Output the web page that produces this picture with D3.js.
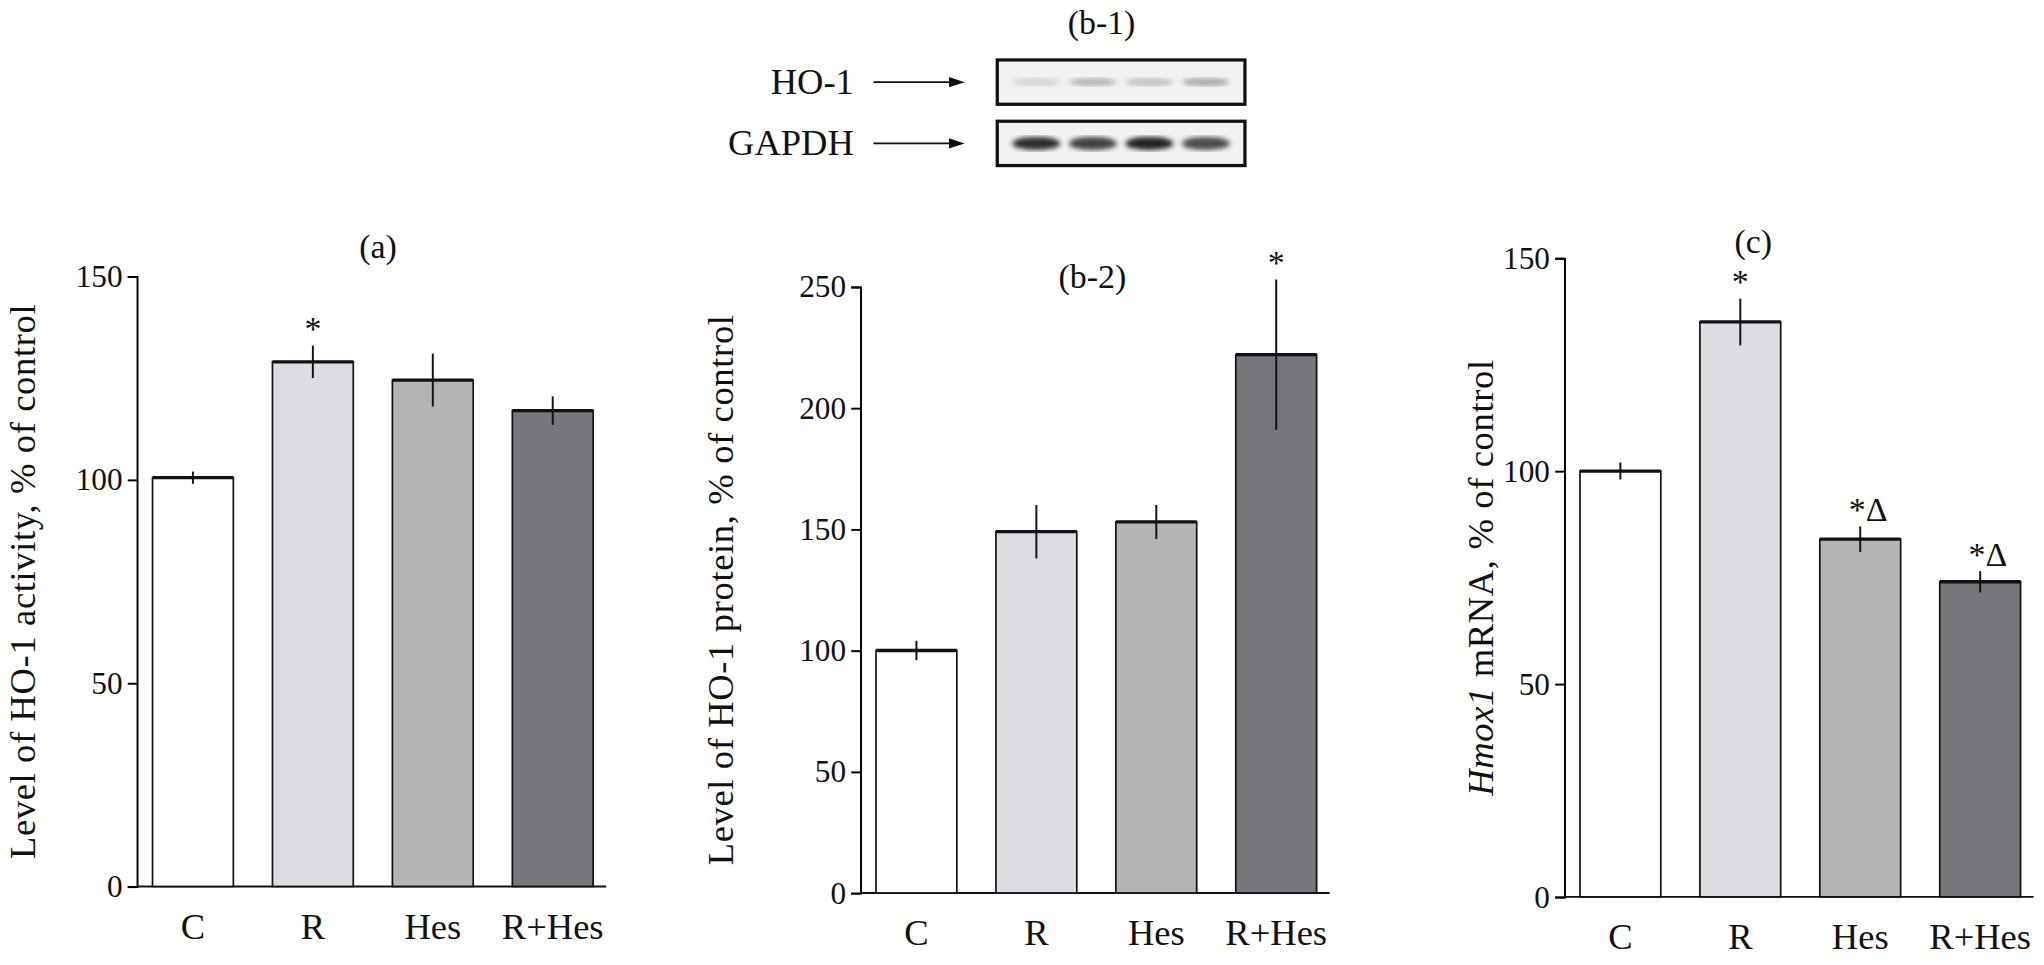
<!DOCTYPE html>
<html><head><meta charset="utf-8">
<script src="https://cdn.jsdelivr.net/npm/d3@7"></script>
<style>body{margin:0;background:#fff}text{font-family:"Liberation Serif",serif;fill:#111}</style>
</head><body><svg id="c" width="2044" height="965"></svg>
<script>
// data
var groups = ["C", "R", "Hes", "R+Hes"];
var fills = ["#ffffff", "#dcdde0", "#b3b4b6", "#76777b"];
var actVals = [100.5, 129, 124.5, 117];
var actErr = [1.5, 4, 6.5, 3.5];
var actMarks = ["", "*", "", ""];
var protVals = [100, 149, 153, 222];
var protErr = [4, 11, 7, 31];
var protMarks = ["", "", "", "*"];
var mrnaVals = [100, 135, 84, 74];
var mrnaErr = [2, 5.5, 3, 2.5];
var mrnaMarks = ["", "*", "*Δ", "*Δ"];
var ho1Bands = [0.25, 0.5, 0.4, 0.6];
var gapdhBands = [0.95, 0.85, 1, 0.8];

var svg = d3.select("#c");
var root = svg.append("g").attr("transform", "scale(1.3036)");

var defs = svg.append("defs");
defs.append("filter").attr("id", "blur").append("feGaussianBlur").attr("stdDeviation", 2.2);

function panel(o) {
  var g = root.append("g");
  var y = d3.scaleLinear().domain([0, o.max]).range([o.y0, o.yTop]);
  var x = d3.scaleBand().domain(groups).range([o.x0 + 12, o.x0 + 12 + 62 * 4 + 30 * 3]).paddingInner(30 / 92).paddingOuter(0);
  var ax = g.append("g").attr("transform", "translate(" + o.x0 + ",0)")
    .call(d3.axisLeft(y).tickValues(o.ticks).tickSize(7).tickPadding(4));
  ax.select(".domain").attr("stroke-width", 1.5);
  ax.selectAll(".tick line").attr("stroke-width", 1.5);
  ax.selectAll("text").style("font-size", "24px").style("font-family", "Liberation Serif");
  g.append("line").attr("x1", o.x0).attr("x2", o.x0 + 360).attr("y1", o.y0).attr("y2", o.y0)
    .attr("stroke", "#111").attr("stroke-width", 1.5);
  groups.forEach(function (d, i) {
    var bx = x(d), bw = x.bandwidth();
    g.append("rect").attr("x", bx).attr("y", y(o.vals[i])).attr("width", bw)
      .attr("height", o.y0 - y(o.vals[i])).attr("fill", fills[i]).attr("stroke", "#111").attr("stroke-width", 1.3);
    g.append("line").attr("x1", bx).attr("x2", bx + bw).attr("y1", y(o.vals[i])).attr("y2", y(o.vals[i]))
      .attr("stroke", "#111").attr("stroke-width", 2.5);
    g.append("line").attr("x1", bx + bw / 2).attr("x2", bx + bw / 2)
      .attr("y1", y(o.vals[i] - o.err[i])).attr("y2", y(o.vals[i] + o.err[i]))
      .attr("stroke", "#111").attr("stroke-width", 1.5);
    if (o.marks[i]) g.append("text").attr("x", bx + bw / 2 + (o.marks[i].length > 1 ? 6 : 0))
      .attr("y", y(o.vals[i] + o.err[i]) - 4).attr("text-anchor", "middle").style("font-size", "26px").text(o.marks[i]);
    g.append("text").attr("x", bx + bw / 2).attr("y", o.y0 + 40).attr("text-anchor", "middle")
      .style("font-size", "28px").text(d);
  });
  g.append("text").attr("x", o.tx).attr("y", o.ty).attr("text-anchor", "middle").style("font-size", "26px").text(o.title);
  var lab = g.append("text").attr("transform", "translate(" + o.lx + "," + ((o.y0 + o.yTop) / 2) + ") rotate(-90)")
    .attr("text-anchor", "middle").style("font-size", "28px").style("letter-spacing", "0.5px");
  o.label(lab);
}

panel({x0: 105, y0: 680, yTop: 212, max: 150, ticks: [0, 50, 100, 150], vals: actVals, err: actErr, marks: actMarks,
  title: "(a)", tx: 290, ty: 198, lx: 27,
  label: function (t) { t.text("Level of HO-1 activity, % of control"); }});
panel({x0: 660, y0: 685, yTop: 220, max: 250, ticks: [0, 50, 100, 150, 200, 250], vals: protVals, err: protErr, marks: protMarks,
  title: "(b-2)", tx: 838, ty: 221, lx: 562,
  label: function (t) { t.text("Level of HO-1 protein, % of control"); }});
panel({x0: 1200, y0: 688, yTop: 198, max: 150, ticks: [0, 50, 100, 150], vals: mrnaVals, err: mrnaErr, marks: mrnaMarks,
  title: "(c)", tx: 1345, ty: 194, lx: 1145,
  label: function (t) { t.append("tspan").style("font-style", "italic").text("Hmox1"); t.append("tspan").text(" mRNA, % of control"); }});

// western blot
var blot = root.append("g");
blot.append("text").attr("x", 845).attr("y", 26).attr("text-anchor", "middle").style("font-size", "26px").text("(b-1)");
var lanes = d3.scaleBand().domain(d3.range(4)).range([770, 950]).padding(0.15);
[{y: 46, lab: "HO-1", bands: ho1Bands, col: "#777", h: 3},
 {y: 93, lab: "GAPDH", bands: gapdhBands, col: "#222", h: 5}].forEach(function (b) {
  blot.append("rect").attr("x", 765).attr("y", b.y).attr("width", 190).attr("height", 34)
    .attr("fill", "#f2f2f2").attr("stroke", "#111").attr("stroke-width", 2.5);
  b.bands.forEach(function (v, i) {
    blot.append("ellipse").attr("cx", lanes(i) + lanes.bandwidth() / 2).attr("cy", b.y + 17)
      .attr("rx", lanes.bandwidth() / 2).attr("ry", b.h).attr("fill", b.col).attr("opacity", v).attr("filter", "url(#blur)");
  });
  blot.append("text").attr("x", 655).attr("y", b.y + 26).attr("text-anchor", "end").style("font-size", "28px").text(b.lab);
  blot.append("line").attr("x1", 670).attr("x2", 730).attr("y1", b.y + 17).attr("y2", b.y + 17).attr("stroke", "#111").attr("stroke-width", 1.5);
  blot.append("path").attr("d", "M740," + (b.y + 17) + "l-12,-4l0,8z").attr("fill", "#111");
});
</script></body></html>
